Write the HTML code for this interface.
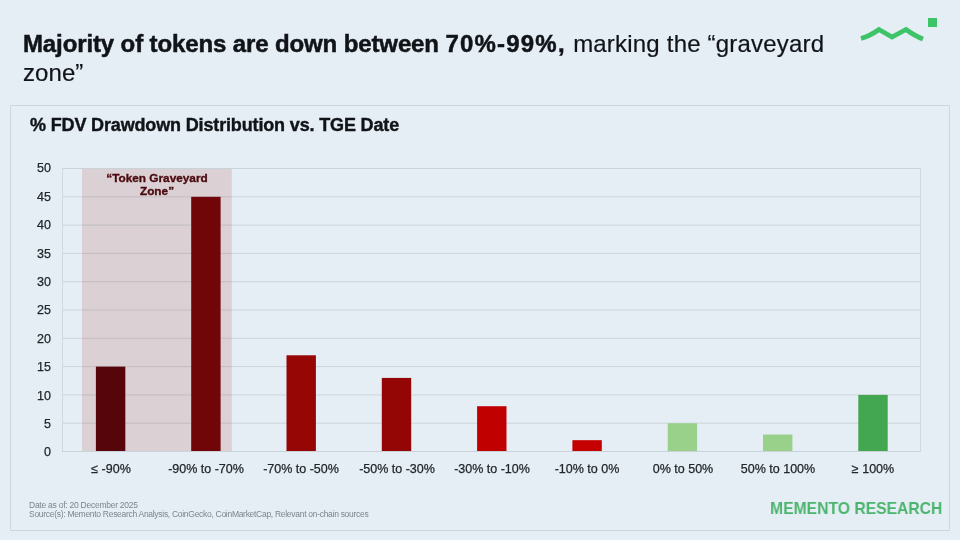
<!DOCTYPE html>
<html><head><meta charset="utf-8">
<style>
html,body{margin:0;padding:0;}
body{width:960px;height:540px;position:relative;overflow:hidden;background:#e6eef5;font-family:"Liberation Sans",sans-serif;color:#121619;}
.abs{position:absolute;white-space:nowrap;will-change:transform;}
.ylab,.xlab,.foot{will-change:transform;}
#title{left:23px;top:29px;font-size:24px;line-height:29px;letter-spacing:0.08px;color:#101418;-webkit-text-stroke:0.2px #101418;}
#title b{font-weight:bold;-webkit-text-stroke:0.5px #101418;}
#panel{position:absolute;left:10px;top:105px;width:940px;height:426px;border:1px solid #cad8e1;box-sizing:border-box;}
#ctitle{left:30px;top:115px;font-size:18px;letter-spacing:-0.15px;font-weight:bold;line-height:20px;color:#101418;-webkit-text-stroke:0.4px #101418;}
.grid{position:absolute;left:63px;width:857px;height:1px;background:#d2dae2;}
.zgrid{position:absolute;left:82px;width:150px;height:1px;background:#cbc0c4;}
.ylab{position:absolute;left:0;width:51px;font-size:12.5px;line-height:14px;color:#21272a;text-align:right;-webkit-text-stroke:0.25px #21272a;}
.bar{position:absolute;width:29px;}
.xlab{position:absolute;font-size:12.5px;line-height:14px;color:#21272a;text-align:center;width:120px;top:462px;-webkit-text-stroke:0.25px #21272a;}
.foot{position:absolute;left:29px;font-size:8.5px;line-height:9px;letter-spacing:-0.25px;color:#7d858c;white-space:nowrap;}
#brand{left:769.5px;top:500px;font-size:17px;letter-spacing:-0.02px;font-weight:bold;color:#4bb46d;line-height:18px;transform:scaleX(0.925);transform-origin:0 0;}
</style></head><body>
<div id="title" class="abs"><b><span style="letter-spacing:-0.12px">Majority of tokens are down between </span><span style="letter-spacing:1.2px">70%-99%,</span></b><span style="letter-spacing:0.2px;margin-left:0.5px"> marking the “graveyard</span><br>zone”</div>
<svg class="abs" style="left:850px;top:10px" width="100" height="40" viewBox="850 10 100 40">
<path d="M861,38.5 Q870,36 879,29.5 L892,37 L906,29.5 Q915,36 923,39" fill="none" stroke="#3dc368" stroke-width="4.8" stroke-linejoin="miter"/>
<rect x="928" y="18" width="9" height="9" fill="#3dc368"/>
</svg>
<div id="panel"></div>
<div id="ctitle" class="abs">% FDV Drawdown Distribution vs. TGE Date</div>
<svg class="abs" style="left:0;top:0" width="960" height="540" viewBox="0 0 960 540">
<rect x="82" y="168.3" width="149.8" height="283.2" fill="#dbd0d3"/>
<line x1="63" x2="920" y1="196.80" y2="196.80" stroke="#ccd4dc" stroke-width="1"/>
<line x1="82" x2="231.8" y1="196.80" y2="196.80" stroke="#c8bcc0" stroke-width="1"/>
<line x1="63" x2="920" y1="225.10" y2="225.10" stroke="#ccd4dc" stroke-width="1"/>
<line x1="82" x2="231.8" y1="225.10" y2="225.10" stroke="#c8bcc0" stroke-width="1"/>
<line x1="63" x2="920" y1="253.40" y2="253.40" stroke="#ccd4dc" stroke-width="1"/>
<line x1="82" x2="231.8" y1="253.40" y2="253.40" stroke="#c8bcc0" stroke-width="1"/>
<line x1="63" x2="920" y1="281.70" y2="281.70" stroke="#ccd4dc" stroke-width="1"/>
<line x1="82" x2="231.8" y1="281.70" y2="281.70" stroke="#c8bcc0" stroke-width="1"/>
<line x1="63" x2="920" y1="310.00" y2="310.00" stroke="#ccd4dc" stroke-width="1"/>
<line x1="82" x2="231.8" y1="310.00" y2="310.00" stroke="#c8bcc0" stroke-width="1"/>
<line x1="63" x2="920" y1="338.30" y2="338.30" stroke="#ccd4dc" stroke-width="1"/>
<line x1="82" x2="231.8" y1="338.30" y2="338.30" stroke="#c8bcc0" stroke-width="1"/>
<line x1="63" x2="920" y1="366.60" y2="366.60" stroke="#ccd4dc" stroke-width="1"/>
<line x1="82" x2="231.8" y1="366.60" y2="366.60" stroke="#c8bcc0" stroke-width="1"/>
<line x1="63" x2="920" y1="394.90" y2="394.90" stroke="#ccd4dc" stroke-width="1"/>
<line x1="82" x2="231.8" y1="394.90" y2="394.90" stroke="#c8bcc0" stroke-width="1"/>
<line x1="63" x2="920" y1="423.20" y2="423.20" stroke="#ccd4dc" stroke-width="1"/>
<line x1="82" x2="231.8" y1="423.20" y2="423.20" stroke="#c8bcc0" stroke-width="1"/>
<line x1="62" x2="921" y1="168.5" y2="168.5" stroke="#c9d1d9" stroke-width="1"/>
<line x1="62.5" x2="62.5" y1="168" y2="452" stroke="#d0d8e0" stroke-width="1"/>
<line x1="920.5" x2="920.5" y1="168" y2="452" stroke="#d0d8e0" stroke-width="1"/>
<rect x="95.90" y="366.60" width="29.4" height="84.60" fill="#56060a"/>
<rect x="191.20" y="196.80" width="29.4" height="254.40" fill="#700607"/>
<rect x="286.50" y="355.28" width="29.4" height="95.92" fill="#960605"/>
<rect x="381.80" y="377.92" width="29.4" height="73.28" fill="#930605"/>
<rect x="477.10" y="406.22" width="29.4" height="44.98" fill="#c00000"/>
<rect x="572.40" y="440.18" width="29.4" height="11.02" fill="#c40000"/>
<rect x="667.70" y="423.20" width="29.4" height="28.00" fill="#99d18b"/>
<rect x="763.00" y="434.52" width="29.4" height="16.68" fill="#99d18b"/>
<rect x="858.30" y="394.90" width="29.4" height="56.30" fill="#43a650"/>
<line x1="62" x2="921" y1="451.5" y2="451.5" stroke="#c9d1d9" stroke-width="1"/>
</svg>
<!-- y labels -->
<div class="ylab" style="top:161px">50</div>
<div class="ylab" style="top:190px">45</div>
<div class="ylab" style="top:218px">40</div>
<div class="ylab" style="top:247px">35</div>
<div class="ylab" style="top:275px">30</div>
<div class="ylab" style="top:303px">25</div>
<div class="ylab" style="top:332px">20</div>
<div class="ylab" style="top:360px">15</div>
<div class="ylab" style="top:389px">10</div>
<div class="ylab" style="top:417px">5</div>
<div class="ylab" style="top:445px">0</div>
<!-- zone label -->
<div class="abs" style="left:82px;top:172px;width:150px;text-align:center;font-size:11.8px;font-weight:bold;line-height:13px;color:#4a0a10;white-space:normal;-webkit-text-stroke:0.35px #4a0a10;">“Token Graveyard<br>Zone”</div>
<!-- x labels -->
<div class="xlab" style="left:51px">≤ -90%</div>
<div class="xlab" style="left:146px">-90% to -70%</div>
<div class="xlab" style="left:241px">-70% to -50%</div>
<div class="xlab" style="left:337px">-50% to -30%</div>
<div class="xlab" style="left:432px">-30% to -10%</div>
<div class="xlab" style="left:527px">-10% to 0%</div>
<div class="xlab" style="left:623px">0% to 50%</div>
<div class="xlab" style="left:718px">50% to 100%</div>
<div class="xlab" style="left:813px">≥ 100%</div>
<div class="foot" style="top:501px">Date as of: 20 December 2025</div>
<div class="foot" style="top:510px;letter-spacing:-0.29px">Source(s): Memento Research Analysis, CoinGecko, CoinMarketCap, Relevant on-chain sources</div>
<div id="brand" class="abs">MEMENTO RESEARCH</div>
</body></html>
